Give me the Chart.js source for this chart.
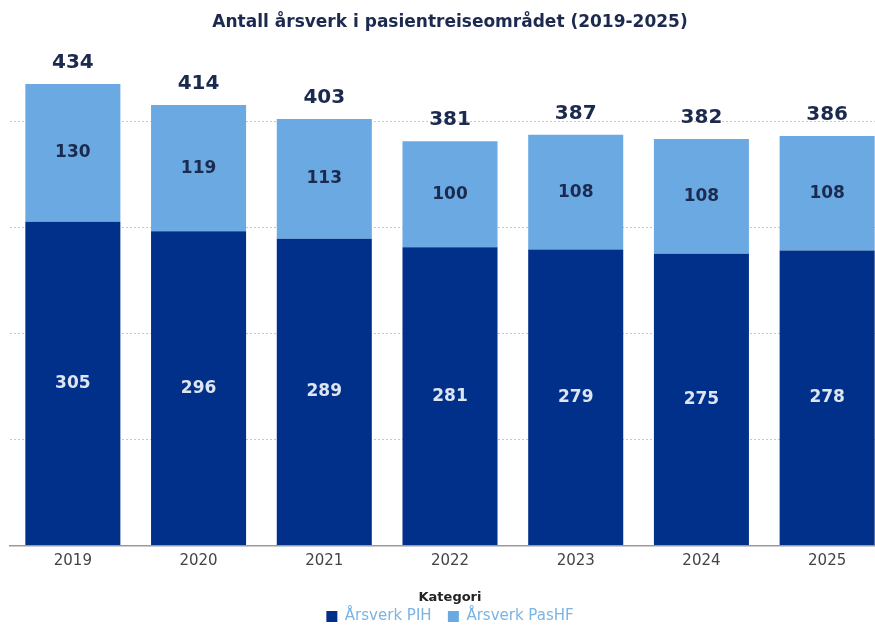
<!DOCTYPE html>
<html lang="no">
<head>
    <meta charset="UTF-8">
    <title>Antall årsverk i pasientreiseområdet</title>
    <script src="https://cdn.jsdelivr.net/npm/chart.js"></script>
    <style>
        body {
            margin: 0;
            padding: 0;
            background-color: #ffffff;
            overflow: hidden;
        }
        .chart-container {
            position: absolute;
            left: 0;
            top: 0;
            width: 890px;  /* right edge of last bar is cut off in the original */
            height: 634px;
        }
    </style>
</head>
<body>
    <div class="chart-container">
        <canvas id="aarsverkChart"></canvas>
    </div>
    <script>
        const years = ['2019', '2020', '2021', '2022', '2023', '2024', '2025'];
        const aarsverkPIH = [305, 296, 289, 281, 279, 275, 278];
        const aarsverkPasHF = [130, 119, 113, 100, 108, 108, 108];
        const totals = [434, 414, 403, 381, 387, 382, 386];

        const darkBlue = '#00308a';
        const lightBlue = '#6aa9e2';
        const navyText = '#1b2a4e';
        const fontFamily = '"DejaVu Sans", Arial, sans-serif';

        // draws the value inside each segment and the total above each bar
        const barLabels = {
            id: 'barLabels',
            afterDatasetsDraw(chart) {
                const ctx = chart.ctx;
                ctx.save();
                ctx.textAlign = 'center';
                ctx.textBaseline = 'middle';
                chart.data.datasets.forEach((ds, i) => {
                    const meta = chart.getDatasetMeta(i);
                    meta.data.forEach((bar, j) => {
                        const mid = (bar.y + bar.base) / 2;
                        ctx.font = 'bold 17px ' + fontFamily;
                        ctx.fillStyle = i === 0 ? '#dde5f0' : navyText;
                        ctx.fillText(ds.data[j], bar.x, mid);
                    });
                });
                const topMeta = chart.getDatasetMeta(chart.data.datasets.length - 1);
                topMeta.data.forEach((bar, j) => {
                    ctx.font = 'bold 20px ' + fontFamily;
                    ctx.fillStyle = navyText;
                    ctx.fillText(totals[j], bar.x, bar.y - 21);
                });
                ctx.restore();
            }
        };

        const ctx = document.getElementById('aarsverkChart').getContext('2d');
        new Chart(ctx, {
            type: 'bar',
            data: {
                labels: years,
                datasets: [
                    {
                        label: 'Årsverk PIH',
                        data: aarsverkPIH,
                        backgroundColor: darkBlue,
                        barPercentage: 0.756,
                        categoryPercentage: 1.0
                    },
                    {
                        label: 'Årsverk PasHF',
                        data: aarsverkPasHF,
                        backgroundColor: lightBlue,
                        barPercentage: 0.756,
                        categoryPercentage: 1.0
                    }
                ]
            },
            options: {
                responsive: true,
                maintainAspectRatio: false,
                animation: false,
                layout: {
                    padding: { left: 10, right: 0, top: 0, bottom: 0 }
                },
                plugins: {
                    title: {
                        display: true,
                        text: 'Antall årsverk i pasientreiseområdet (2019-2025)',
                        color: navyText,
                        font: { family: fontFamily, size: 17, weight: 'bold' },
                        padding: { top: 12, bottom: 8 }
                    },
                    legend: {
                        position: 'bottom',
                        title: {
                            display: true,
                            text: 'Kategori',
                            color: '#222222',
                            font: { family: fontFamily, size: 13, weight: 'bold' },
                            padding: { top: 14, bottom: 0 }
                        },
                        labels: {
                            color: '#7cb3e4',
                            boxWidth: 11,
                            boxHeight: 11,
                            padding: 2,
                            font: { family: fontFamily, size: 15 },
                            // small padding keeps rows tight, so widen the gap between items with spaces
                            generateLabels(chart) {
                                const items = Chart.defaults.plugins.legend.labels.generateLabels(chart);
                                items.forEach((item, i) => {
                                    if (i < items.length - 1) item.text += '   ';
                                });
                                return items;
                            }
                        }
                    },
                    tooltip: { enabled: false }
                },
                scales: {
                    x: {
                        stacked: true,
                        grid: { display: false, drawTicks: false },
                        border: { display: true, color: '#9a9a9a', width: 1.5 },
                        ticks: {
                            color: '#444444',
                            padding: 7,
                            font: { family: fontFamily, size: 15 }
                        }
                    },
                    y: {
                        stacked: true,
                        min: 0,
                        max: 476,
                        display: true,
                        ticks: { display: false, stepSize: 100 },
                        border: { display: false, dash: [2, 2] },
                        grid: {
                            drawTicks: false,
                            color: c => (c.tick.value > 0 && c.tick.value % 100 === 0) ? '#c8c8c8' : 'transparent'
                        }
                    }
                }
            },
            plugins: [barLabels]
        });
    </script>
</body>
</html>
